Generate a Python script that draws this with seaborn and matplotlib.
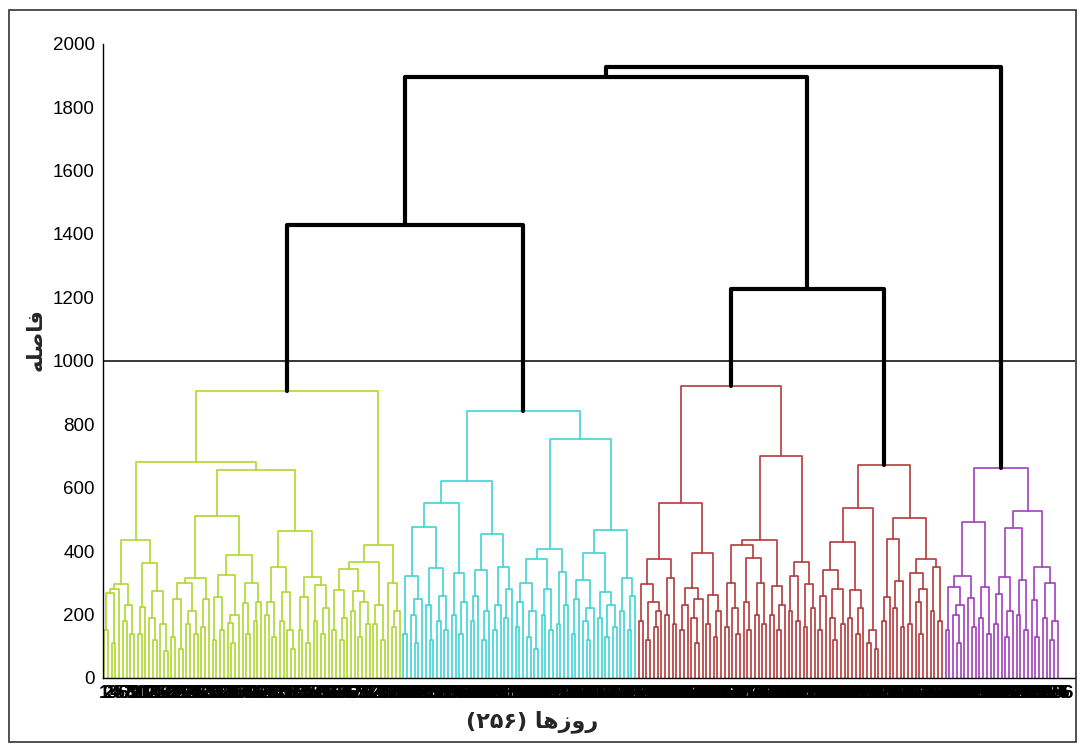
import numpy as np
import pandas as pd
import matplotlib
matplotlib.use("Agg")
import matplotlib.pyplot as plt
from matplotlib.patches import Rectangle
import seaborn as sns

# merge height between each pair of neighbouring leaves (left to right)
yellow_gaps = [150, 267, 110, 280, 296, 180, 230, 140, 435,
               140, 225, 361, 190, 120, 275, 170, 85, 680,
               130, 250, 90, 300, 170, 210, 140, 315, 160, 250, 512,
               120, 256, 150, 325, 172, 110, 200, 388, 236, 140, 298, 180, 241, 656,
               200, 241, 130, 349, 180, 270, 150, 90, 462, 150, 256, 110, 318, 180, 293, 140, 220, 906,
               150, 278, 120, 190, 344, 210, 275, 130, 240, 170, 366, 170, 230, 120, 419, 300, 160, 210]
cyan_gaps = [140, 320, 200, 110, 250, 477, 230, 120, 346, 180, 260, 150, 551, 200, 330, 140, 240, 622,
             180, 260, 340, 120, 210, 454, 150, 230, 350, 190, 280, 843,
             160, 240, 301, 130, 210, 90, 374, 200, 280, 150, 406, 170, 335, 230, 753,
             140, 250, 310, 180, 120, 220, 393, 190, 272, 130, 230, 160, 467, 210, 314, 150, 260]
red_left_gaps = [180, 296, 120, 240, 160, 210, 374, 200, 314, 170, 551, 150, 230, 284, 190, 110, 250, 395,
                 170, 263, 130, 210, 922,
                 160, 300, 220, 140, 420, 240, 150, 378, 200, 300, 170, 435, 200, 290, 150, 230, 700,
                 210, 322, 180, 365, 160, 295, 220]
red_right_gaps = [150, 260, 339, 190, 120, 280, 170, 428, 190, 276, 140, 220, 537, 110, 150, 90, 672,
                  180, 255, 438, 220, 305, 160, 504, 170, 330, 240, 140, 280, 376, 210, 350, 180]
purple_gaps = [150, 288, 200, 110, 230, 320, 252, 160, 493, 190, 286, 140, 661,
               170, 265, 318, 130, 210, 472, 200, 309, 150, 525, 245, 130, 351, 190, 299, 120, 180]
# heights of the black links that join the groups
join_heights = [1428, 1895, 1227, 1925]

cut_height = 1000
cluster_colors = ["#b0d830", "#3fd4d4", "#b53a3a", "#b53a3a", "#a040bc"]
leaf_labels = [str(d) for d in range(1, 257)]

gaps = (yellow_gaps + [join_heights[0]] + cyan_gaps + [join_heights[1]] + red_left_gaps
        + [join_heights[2]] + red_right_gaps + [join_heights[3]] + purple_gaps)
n_leaves = len(gaps) + 1


def build(lo, hi):
    if lo == hi:
        return {"x": lo + 1.0, "h": 0.0, "kids": None}
    k = lo + int(np.argmax(gaps[lo:hi]))
    left = build(lo, k)
    right = build(k + 1, hi)
    return {"x": (left["x"] + right["x"]) / 2, "h": gaps[k], "kids": (left, right)}


root = build(0, n_leaves - 1)

rows = []
counter = [0]


def walk(node, cluster):
    if node["kids"] is None:
        return
    if cluster is None and node["h"] < cut_height:
        cluster = "c%d" % counter[0]
        counter[0] += 1
    left, right = node["kids"]
    lid = len(rows)
    name = cluster if cluster is not None else "top"
    xs = [left["x"], left["x"], right["x"], right["x"]]
    ys = [left["h"], node["h"], node["h"], right["h"]]
    for i, (x, y) in enumerate(zip(xs, ys)):
        rows.append({"link": lid, "step": i, "x": x, "y": y, "cluster": name})
    walk(left, cluster)
    walk(right, cluster)


walk(root, None)
df = pd.DataFrame(rows)

sns.set_theme(style="white")
plt.rcParams["font.family"] = ["Liberation Sans", "DejaVu Sans"]

fig = plt.figure(figsize=(10.8, 7.49), dpi=100)
ax = fig.add_axes([0.0954, 0.0948, 0.9, 0.847])

pal = {"c%d" % i: c for i, c in enumerate(cluster_colors)}
sns.lineplot(data=df[df["cluster"] != "top"], x="x", y="y", units="link", hue="cluster",
             palette=pal, estimator=None, sort=False, legend=False, linewidth=1.2, ax=ax)
sns.lineplot(data=df[df["cluster"] == "top"], x="x", y="y", units="link", color="black",
             estimator=None, sort=False, legend=False, linewidth=3.0, ax=ax)
ax.axhline(cut_height, color="black", linewidth=1.1)

ax.set_xlim(0.7, 260.6)
ax.set_ylim(0, 2000)
ax.set_yticks(range(0, 2001, 200))
ax.set_yticklabels([str(v) for v in range(0, 2001, 200)], fontsize=13.5)
ax.set_xticks(range(1, n_leaves + 1))
ax.set_xticklabels(leaf_labels, fontsize=14, fontweight="bold")
ax.tick_params(axis="y", direction="in", length=8, width=1, pad=6, colors="black")
ax.tick_params(axis="x", direction="in", length=2, width=0.8, pad=5, colors="black")
ax.set_xlabel("")
ax.set_ylabel("")
for s in ["top", "right"]:
    ax.spines[s].set_visible(False)
for s in ["left", "bottom"]:
    ax.spines[s].set_color("black")
    ax.spines[s].set_linewidth(1.0)
ax.set_facecolor("white")

# Persian axis titles, written in shaped presentation forms
fig.text(36 / 1080, 1 - 340 / 749, "\uFEEA\uFEE0\uFEBB\uFE8E\uFED3", rotation=90,
         ha="center", va="center", fontsize=15, fontweight="bold", family="DejaVu Sans")
fig.text(532 / 1080, 1 - 722 / 749, "(\u06F2\u06F5\u06F6) \uFE8E\uFEEB\uFEAF\uFEED\uFEAD",
         ha="center", va="center", fontsize=16, fontweight="bold", family="DejaVu Sans")

fig.patches.append(Rectangle((9 / 1080, 7 / 749), 1067 / 1080, 732 / 749, transform=fig.transFigure,
                             fill=False, edgecolor="#333333", linewidth=1.2))

fig.savefig("out.png", dpi=100, facecolor="white")
